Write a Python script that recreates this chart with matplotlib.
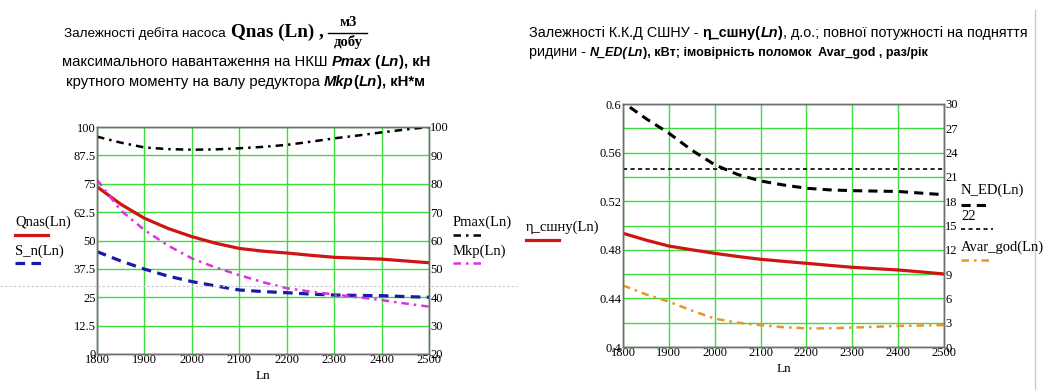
import matplotlib
matplotlib.use("Agg")
import matplotlib.pyplot as plt
from matplotlib.lines import Line2D

# ---- data ----
ln = [1800, 1850, 1900, 1950, 2000, 2050, 2100, 2150, 2200, 2250, 2300, 2350, 2400, 2450, 2500]

qnas = [73.7, 66.0, 59.8, 55.3, 51.7, 48.8, 46.5, 45.3, 44.5, 43.5, 42.6, 42.2, 41.8, 41.0, 40.2]
s_n = [45.1, 41.0, 37.4, 34.3, 31.9, 30.0, 28.2, 27.5, 27.0, 26.4, 26.0, 25.8, 25.7, 25.3, 25.0]
pmax = [96.6, 94.5, 92.8, 92.2, 92.0, 92.1, 92.5, 93.0, 93.7, 94.8, 96.0, 97.0, 98.1, 99.1, 100.0]
mkp = [81.4, 70.6, 63.7, 58.2, 53.7, 50.5, 47.8, 45.3, 43.2, 42.0, 41.0, 40.0, 39.0, 37.8, 36.7]

eta = [0.4936, 0.488, 0.4831, 0.480, 0.4771, 0.4745, 0.4722, 0.4705, 0.4689, 0.4672,
       0.4656, 0.4645, 0.4634, 0.4618, 0.4601]
ned_ln = [1815, 1850, 1900, 1950, 2000, 2050, 2100, 2150, 2200, 2250, 2300, 2350, 2400, 2450, 2500]
n_ed = [29.6, 28.2, 26.4, 24.3, 22.5, 21.3, 20.5, 20.0, 19.6, 19.4, 19.3, 19.25, 19.2, 19.0, 18.8]
n_lim = [22] * len(ln)
avar = [7.6, 6.5, 5.6, 4.5, 3.5, 3.0, 2.7, 2.45, 2.3, 2.3, 2.4, 2.5, 2.6, 2.65, 2.7]

left_yticks = [0, 12.5, 25, 37.5, 50, 62.5, 75, 87.5, 100]
left_ylabels = ["0", "12.5", "25", "37.5", "50", "62.5", "75", "87.5", "100"]
left_y2ticks = [20, 30, 40, 50, 60, 70, 80, 90, 100]
eta_ticks = [0.4, 0.44, 0.48, 0.52, 0.56, 0.6]
eta_labels = ["0.4", "0.44", "0.48", "0.52", "0.56", "0.6"]
ned_ticks = [0, 3, 6, 9, 12, 15, 18, 21, 24, 27, 30]

RED = "#d01414"
BLUE = "#1a1aa8"
MAG = "#e030e0"
ORANGE = "#ec9428"
GRID = "#3fdc3f"
SERIF = "Liberation Serif"
SANS = "Liberation Sans"

fig = plt.figure(figsize=(10.46, 3.90), dpi=100)
W, H = 1046, 390


def px_axes(x0, y0, x1, y1):
    return fig.add_axes([x0 / W, 1 - y1 / H, (x1 - x0) / W, (y1 - y0) / H])


def style_axes(ax, ax2):
    for a in (ax, ax2):
        for s in a.spines.values():
            s.set_color("#707070")
            s.set_linewidth(1.0)
        a.tick_params(length=0, labelsize=9, labelfontfamily=SERIF, pad=1)
    ax.tick_params(axis="x", pad=0)
    ax.grid(True, which="both", color=GRID, linewidth=1.0)
    ax.set_axisbelow(True)
    ax.set_xlim(1800, 2500)
    ax.set_xticks(range(1800, 2501, 100))
    ax.set_xlabel("Ln", fontfamily=SERIF, fontsize=9.5, labelpad=3)


# ---- left panel ----
ax = px_axes(97, 127, 429, 354)
ax2 = ax.twinx()
style_axes(ax, ax2)
ax.set_ylim(0, 100)
ax.set_yticks(left_yticks, left_ylabels)
ax2.set_ylim(20, 100)
ax2.set_yticks(left_y2ticks)
ax.plot(ln, qnas, color=RED, lw=2.3)
ax.plot(ln, s_n, color=BLUE, lw=2.3, dashes=(3, 2))
ax2.plot(ln, pmax, color="black", lw=1.8, dashes=(3, 2, 1, 2))
ax2.plot(ln, mkp, color=MAG, lw=1.8, dashes=(3, 2, 1, 2))

# ---- right panel ----
bx = px_axes(623, 104, 944, 347)
bx2 = bx.twinx()
style_axes(bx, bx2)
bx.set_ylim(0.4, 0.6)
bx.set_yticks(eta_ticks, eta_labels)
bx.set_yticks([0.42, 0.46, 0.5, 0.54, 0.58], minor=True)
bx.tick_params(which="minor", length=0)
bx2.set_ylim(0, 30)
bx2.set_yticks(ned_ticks)
bx.plot(ln, eta, color=RED, lw=2.3)
bx2.plot(ned_ln, n_ed, color="black", lw=2.2, dashes=(3, 2))
bx2.plot(ln, n_lim, color="black", lw=1.2, dashes=(2.5, 2))
bx2.plot(ln, avar, color=ORANGE, lw=1.8, dashes=(3, 2, 1, 2))


# ---- legends as free text + line samples (Mathcad style) ----
def legend_item(x, y_text, y_line, label, length, **line_kw):
    fig.text(x / W, 1 - y_text / H, label, fontfamily=SERIF, fontsize=10.5,
             va="center", ha="left")
    fig.add_artist(Line2D([x / W, (x + length) / W], [1 - y_line / H] * 2, **line_kw))


legend_item(15, 222, 235, "Qnas(Ln)", 33, color=RED, lw=2.3)
legend_item(15, 251, 263, "S_n(Ln)", 28, color=BLUE, lw=2.3, dashes=(3, 2))
legend_item(453, 222, 235, "Pmax(Ln)", 30, color="black", lw=1.8, dashes=(3, 2, 1, 2))
legend_item(453, 251, 263, "Mkp(Ln)", 30, color=MAG, lw=1.8, dashes=(3, 2, 1, 2))
legend_item(526, 227, 240, "η_сшну(Ln)", 33, color=RED, lw=2.3)
legend_item(961, 190, 205, "N_ED(Ln)", 30, color="black", lw=2.2, dashes=(3, 2))
legend_item(961, 217, 229, "22", 32, color="black", lw=1.2, dashes=(2.5, 2))
legend_item(961, 247, 260, "Avar_god(Ln)", 28, color=ORANGE, lw=1.8, dashes=(3, 2, 1, 2))

# ---- titles: groups of formatted pieces; a group with x1 is fitted to that span ----
renderer = fig.canvas.get_renderer()


def rich_line(y, groups, base=10.0):
    for x0, x1, pieces in groups:
        texts = []
        for s, kw in pieces:
            props = dict(fontfamily=SANS, fontsize=base)
            props.update(kw)
            texts.append(fig.text(0, 1 - y / H, s, va="baseline", ha="left", **props))
        if x1 is not None:
            total = sum(t.get_window_extent(renderer).width for t in texts)
            k = (x1 - x0) / total
            for t in texts:
                t.set_fontsize(t.get_fontsize() * k)
        start = x0
        for t in texts:
            t.set_x(start / W)
            start += t.get_window_extent(renderer).width


N = {}
B = {"fontweight": "bold"}
BI = {"fontweight": "bold", "fontstyle": "italic"}
TB = {"fontfamily": SERIF, "fontweight": "bold", "fontsize": 11.5}

rich_line(37, [(64, 226, [("Залежності дебіта насоса", N)]),
               (231, 324, [("Qnas (Ln) ,", TB)])])
fig.text(348 / W, 1 - 26 / H, "м3", fontfamily=SERIF, fontweight="bold",
         fontsize=10.5, ha="center", va="baseline")
fig.add_artist(Line2D([328 / W, 367 / W], [1 - 33 / H] * 2, color="black", lw=1.0))
fig.text(348 / W, 1 - 46 / H, "добу", fontfamily=SERIF, fontweight="bold",
         fontsize=10.5, ha="center", va="baseline")
rich_line(66, [(62, 431, [("максимального навантаження на НКШ ", N), ("Pmax", BI), (" (", B),
                          ("Ln", BI), ("), кН", B)])])
rich_line(86, [(66, 426, [("крутного моменту на валу редуктора ", N), ("Mkp", BI), ("(", B),
                          ("Ln", BI), ("), кН*м", B)])])

rich_line(37, [(529, 1029, [("Залежності К.К.Д СШНУ - ", N), ("η_сшну(", B), ("Ln", BI), (")", B),
                            (", д.о.; повної потужності на подняття", N)])])
rich_line(56, [(529, 586, [("ридини -", N)]),
               (590, 926, [("N_ED(", BI), ("Ln", BI),
                           ("), кВт; імовірність поломок  Avar_god , раз/рік", B)])])

# page-break artefacts of the source document
fig.add_artist(Line2D([0, 517 / W], [1 - 286 / H] * 2, color="#c8c8c8", lw=0.8, dashes=(2, 2)))
fig.add_artist(Line2D([1035 / W] * 2, [0, 1 - 10 / H], color="#c8c8c8", lw=1.0))

fig.savefig("out.png", dpi=100)
